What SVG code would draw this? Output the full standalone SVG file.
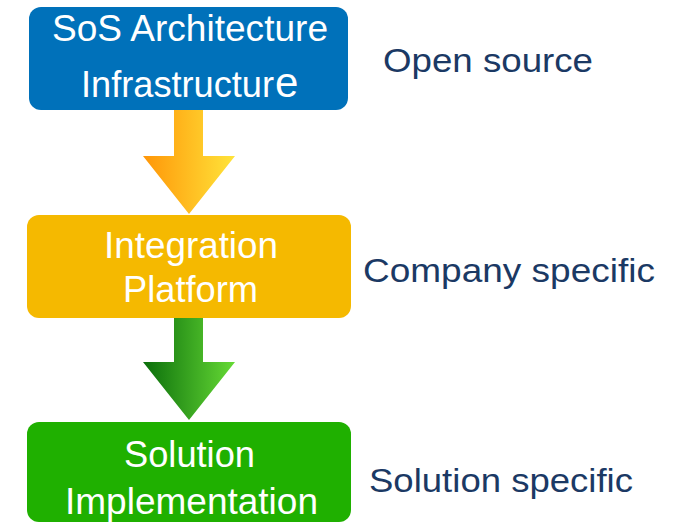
<svg xmlns="http://www.w3.org/2000/svg" width="681" height="524" viewBox="0 0 681 524">
  <defs>
    <linearGradient id="gOrange" x1="0" y1="0" x2="1" y2="0">
      <stop offset="0" stop-color="#FF9608"/>
      <stop offset="1" stop-color="#FFE43A"/>
    </linearGradient>
    <linearGradient id="gGreen" x1="0" y1="0" x2="1" y2="0">
      <stop offset="0" stop-color="#0B6E0B"/>
      <stop offset="1" stop-color="#66DA35"/>
    </linearGradient>
  </defs>
  <style>
    .box-text { font-family: "Liberation Sans", Arial, sans-serif; font-size: 36px; fill: #FFFFFF; }
    .label { font-family: "Liberation Sans", Arial, sans-serif; font-size: 34px; fill: #1B3964; }
  </style>
  <g id="connectors">
    <path d="M174,110 L203,110 L203,156 L235,156 L189,214 L143,156 L174,156 Z" fill="url(#gOrange)"/>
    <path d="M174,318 L203,318 L203,362 L235,362 L189,420 L143,362 L174,362 Z" fill="url(#gGreen)"/>
  </g>
  <g id="node-sos">
    <rect x="29" y="7" width="319" height="103" rx="12" ry="12" fill="#0071BA"/>
    <text class="box-text" x="52" y="41" textLength="276" lengthAdjust="spacingAndGlyphs">SoS Architecture</text>
    <text class="box-text" x="81" y="97" textLength="193" lengthAdjust="spacingAndGlyphs">Infrastructur</text>
    <text class="box-text" x="275" y="97" style="font-size:42px">e</text>
  </g>
  <g id="node-integration">
    <rect x="27" y="215" width="324" height="103" rx="12" ry="12" fill="#F5B900"/>
    <text class="box-text" x="104" y="258" textLength="174" lengthAdjust="spacingAndGlyphs">Integration</text>
    <text class="box-text" x="123" y="302" textLength="135" lengthAdjust="spacingAndGlyphs">Platform</text>
  </g>
  <g id="node-solution">
    <rect x="27" y="422" width="324" height="100" rx="12" ry="12" fill="#1FB000"/>
    <text class="box-text" x="124" y="467" textLength="131" lengthAdjust="spacingAndGlyphs">Solution</text>
    <text class="box-text" x="65" y="514" textLength="253" lengthAdjust="spacingAndGlyphs">Implementation</text>
  </g>
  <g id="label-open">
    <text class="label" x="383" y="72" textLength="210" lengthAdjust="spacingAndGlyphs">Open source</text>
  </g>
  <g id="label-company">
    <text class="label" x="363" y="282" textLength="292" lengthAdjust="spacingAndGlyphs">Company specific</text>
  </g>
  <g id="label-solution">
    <text class="label" x="369" y="492" textLength="264" lengthAdjust="spacingAndGlyphs">Solution specific</text>
  </g>
</svg>
